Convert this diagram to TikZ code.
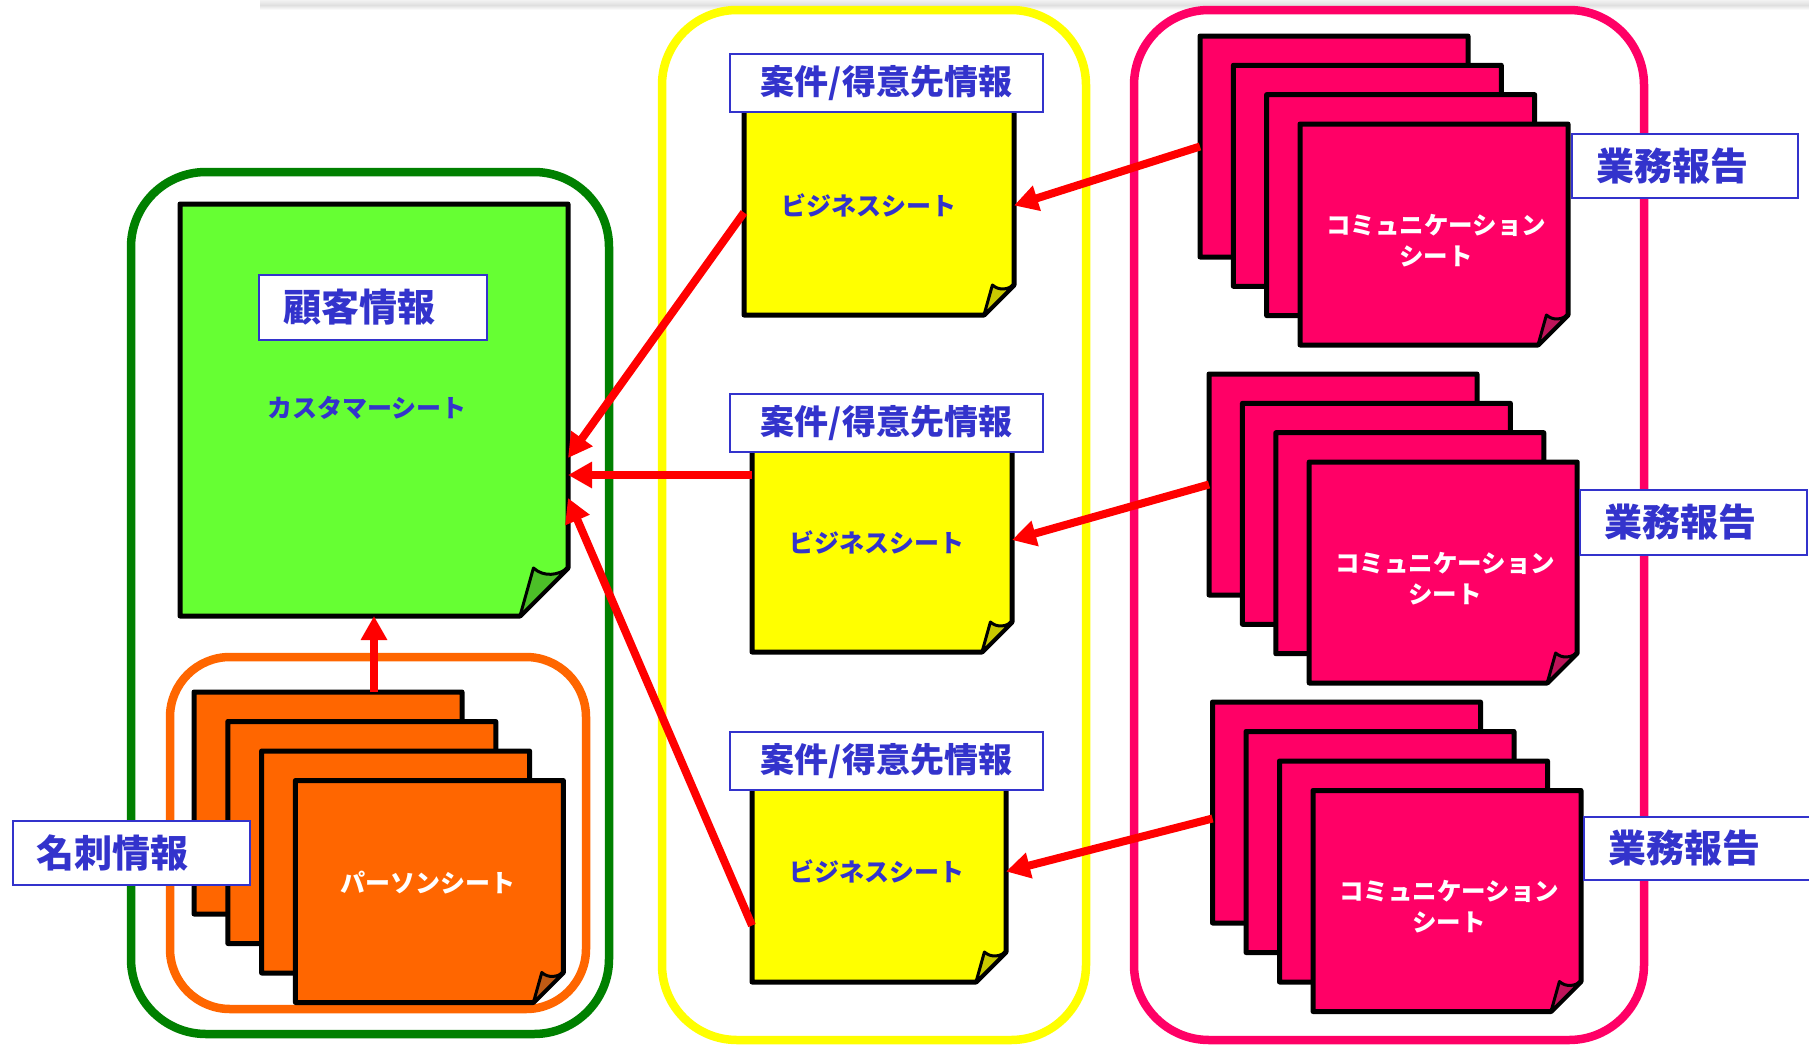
\documentclass[tikz,border=0pt]{standalone}
\usepackage{fontspec}
\newfontfamily\jp{Noto Sans CJK JP}
\usetikzlibrary{arrows.meta,calc}
\definecolor{lblue}{RGB}{51,51,204}
\definecolor{dgreen}{RGB}{0,128,0}
\definecolor{lgreen}{RGB}{102,255,51}
\definecolor{cgreen}{RGB}{76,192,40}
\definecolor{orng}{RGB}{255,102,0}
\definecolor{corng}{RGB}{190,90,20}
\definecolor{ylw}{RGB}{255,255,0}
\definecolor{cylw}{RGB}{200,200,0}
\definecolor{pnk}{RGB}{255,0,102}
\definecolor{cpnk}{RGB}{190,20,90}
\definecolor{arrred}{RGB}{255,0,0}
\tikzset{
 sheetline/.style={draw=black, line width=5pt, line join=round},
 container/.style={line width=8.5pt, rounded corners=75pt},
 lbl/.style={draw=lblue, fill=white, line width=2pt, text=lblue, font=\jp\bfseries\fontsize{38}{40}\selectfont, inner ysep=0pt, anchor=north west},
 lblL/.style={lbl, inner xsep=24pt, align=left},
 lblC/.style={lbl, font=\jp\bfseries\fontsize{34}{40}\selectfont, inner xsep=0pt, align=center},
 smalltxt/.style={font=\jp\bfseries\fontsize{25}{31}\selectfont, inner sep=0pt, align=center},
 conn/.style={draw=arrred, line width=8pt, -{Triangle[length=24pt,width=25pt]}},
}
\newcommand\mysheet[8]{%
 \node[inner sep=0pt, outer sep=0pt, minimum width=#4pt, minimum height=#5pt, anchor=north west] (#1) at (#2,#3) {};
 \filldraw[sheetline, fill=#7] (#2,#3) -- ({#2+#4},#3) -- ({#2+#4},{#3+#5-#6}) -- ({#2+#4-#6},{#3+#5}) -- (#2,{#3+#5}) -- cycle;
 \filldraw[sheetline, line width=3pt, fill=#8] ({#2+#4-#6},{#3+#5}) -- ({#2+#4-0.72*#6},{#3+#5-#6}) .. controls ({#2+#4-0.5*#6},{#3+#5-0.8*#6}) and ({#2+#4-0.2*#6},{#3+#5-0.85*#6}) .. ({#2+#4},{#3+#5-#6}) -- cycle;
}
\begin{document}
\begin{tikzpicture}[x=1pt,y=-1pt]
\useasboundingbox (0,0) rectangle (1809,1044);
\fill[white] (0,0) rectangle (1809,1044);
\shade[top color=gray!10, bottom color=white, middle color=gray!25] (260,0) rectangle (1809,10);
% containers
\draw[container, dgreen] (131,172) rectangle (609,1034);
\draw[container, orng, rounded corners=60pt] (170,657) rectangle (586,1009);
\draw[container, ylw] (662,10) rectangle (1086,1040);
\draw[container, pnk] (1134,10) rectangle (1644,1040);
% customer sheet
\mysheet{cust}{180}{204}{388}{412}{48}{lgreen}{cgreen}
\node[lblL, text width=180pt, minimum height=65pt] (lblCust) at (258,274) {顧客情報};
\node[smalltxt, text=lblue] (custT) at (367,408) {カスタマーシート};
% person sheets
\mysheet{or1}{194}{692}{268}{222}{30}{orng}{corng}
\mysheet{or2}{227.8}{721.5}{268}{222}{30}{orng}{corng}
\mysheet{or3}{261.6}{751}{268}{222}{30}{orng}{corng}
\mysheet{or4}{295.4}{780.5}{268}{222}{30}{orng}{corng}
\node[smalltxt, text=white] (orT) at (428,883) {パーソンシート};
\node[lblL, text width=189pt, minimum height=64pt] (lblCard) at (11.5,820) {名刺情報};
% business sheets
\mysheet{bizA}{744}{110}{270}{205}{30}{ylw}{cylw}
\mysheet{bizB}{752}{448}{260}{204}{30}{ylw}{cylw}
\mysheet{bizC}{752}{787}{254}{195}{30}{ylw}{cylw}
\node[lblC, minimum width=313pt, minimum height=58pt] (lblA) at (729,53) {案件/得意先情報};
\node[lblC, minimum width=313pt, minimum height=58pt] (lblB) at (729,393) {案件/得意先情報};
\node[lblC, minimum width=313pt, minimum height=58pt] (lblC) at (729,731) {案件/得意先情報};
\node[smalltxt, text=lblue] (bizAT) at (869,205) {ビジネスシート};
\node[smalltxt, text=lblue] (bizBT) at (877,542) {ビジネスシート};
\node[smalltxt, text=lblue] (bizCT) at (877,871) {ビジネスシート};
% communication sheets A
\mysheet{pA1}{1200}{36}{268}{221}{30}{pnk}{cpnk}
\mysheet{pA2}{1233.3}{65.3}{268}{221}{30}{pnk}{cpnk}
\mysheet{pA3}{1266.6}{94.6}{268}{221}{30}{pnk}{cpnk}
\mysheet{pA4}{1300}{124}{268}{221}{30}{pnk}{cpnk}
\node[smalltxt, text=white, font=\jp\bfseries\fontsize{24.5}{31}\selectfont] (pAT) at (1436,241) {コミュニケーション\\シート};
\node[lblL, text width=178pt, minimum height=64pt] (repA) at (1571,133) {業務報告};
% B
\mysheet{pB1}{1209}{374}{268}{221}{30}{pnk}{cpnk}
\mysheet{pB2}{1242.4}{403.3}{268}{221}{30}{pnk}{cpnk}
\mysheet{pB3}{1275.8}{432.7}{268}{221}{30}{pnk}{cpnk}
\mysheet{pB4}{1309.2}{462}{268}{221}{30}{pnk}{cpnk}
\node[smalltxt, text=white, font=\jp\bfseries\fontsize{24.5}{31}\selectfont] (pBT) at (1445,579) {コミュニケーション\\シート};
\node[lblL, text width=179pt, minimum height=65pt] (repB) at (1579,489) {業務報告};
% C
\mysheet{pC1}{1212.5}{702}{268}{221}{30}{pnk}{cpnk}
\mysheet{pC2}{1246}{731.5}{268}{221}{30}{pnk}{cpnk}
\mysheet{pC3}{1279.5}{761}{268}{221}{30}{pnk}{cpnk}
\mysheet{pC4}{1313}{790.5}{268}{221}{30}{pnk}{cpnk}
\node[smalltxt, text=white, font=\jp\bfseries\fontsize{24.5}{31}\selectfont] (pCT) at (1449,907) {コミュニケーション\\シート};
\node[lblL, text width=182pt, minimum height=63pt] (repC) at (1583,816) {業務報告};
% connectors
\draw[conn] (bizA.west) -- ([yshift=-48pt]cust.east);
\draw[conn] ([yshift=75pt]bizB.west) -- ([yshift=-65pt]cust.east);
\draw[conn] ([yshift=-41pt]bizC.west) -- ([yshift=-88pt]cust.east);
\draw[conn] (pA1.west) -- ([yshift=7pt]bizA.east);
\draw[conn] (pB1.west) -- ([yshift=10pt]bizB.east);
\draw[conn] ([yshift=-6pt]pC1.west) -- ([yshift=13pt]bizC.east);
\draw[conn] (cust.south |- or1.north) -- (cust.south);
\end{tikzpicture}
\end{document}
